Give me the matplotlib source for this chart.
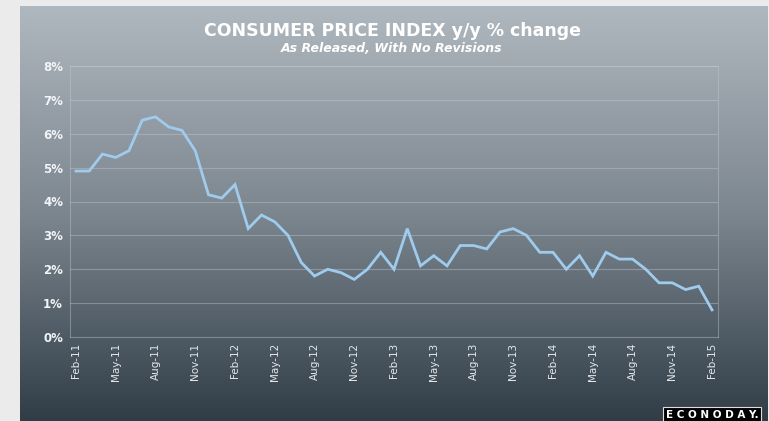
import matplotlib

matplotlib.use("Agg")
import matplotlib.pyplot as plt
import numpy as np
from matplotlib.colors import LinearSegmentedColormap
from matplotlib.ticker import FuncFormatter

# monthly y/y % change, as released
cpi_values = [
    4.9, 4.9, 5.4, 5.3, 5.5, 6.4, 6.5, 6.2, 6.1, 5.5, 4.2, 4.1,
    4.5, 3.2, 3.6, 3.4, 3.0, 2.2, 1.8, 2.0, 1.9, 1.7, 2.0, 2.5,
    2.0, 3.2, 2.1, 2.4, 2.1, 2.7, 2.7, 2.6, 3.1, 3.2, 3.0, 2.5,
    2.5, 2.0, 2.4, 1.8, 2.5, 2.3, 2.3, 2.0, 1.6, 1.6, 1.4, 1.5,
    0.8,
]
tick_labels = [
    "Feb-11", "May-11", "Aug-11", "Nov-11", "Feb-12", "May-12", "Aug-12",
    "Nov-12", "Feb-13", "May-13", "Aug-13", "Nov-13", "Feb-14", "May-14",
    "Aug-14", "Nov-14", "Feb-15",
]
y_ticks = [0, 1, 2, 3, 4, 5, 6, 7, 8]

W, H = 769, 421
fig = plt.figure(figsize=(W / 100, H / 100), dpi=100)
fig.patch.set_facecolor("#ebebeb")

# gradient panel
bg = fig.add_axes([20 / W, 0, 748 / W, 415 / H])
bg.set_axis_off()
cmap = LinearSegmentedColormap.from_list("panel", ["#b0b8bf", "#7c868f", "#303d47"])
bg.imshow(np.linspace(0, 1, 256).reshape(-1, 1), aspect="auto", cmap=cmap,
          extent=[0, 1, 0, 1])

ax = fig.add_axes([70 / W, (H - 337) / H, 648 / W, 271 / H])
ax.patch.set_alpha(0)
x = np.arange(len(cpi_values))
ax.plot(x, cpi_values, color="#9fcbec", linewidth=2, solid_joinstyle="miter")

ax.set_xlim(-0.45, len(cpi_values) - 1 + 0.45)
ax.set_ylim(0, 8)
ax.set_yticks(y_ticks)
ax.yaxis.set_major_formatter(FuncFormatter(lambda v, _: f"{v:.0f}%"))
ax.set_xticks(x[::3])
ax.set_xticklabels(tick_labels, rotation=90, fontsize=7.5, color="#e4e8ec")
for lab in ax.get_yticklabels():
    lab.set_fontsize(8.5)
    lab.set_fontweight("bold")
    lab.set_color("#f2f4f6")
ax.tick_params(length=0, pad=4)
ax.tick_params(axis="y", pad=5)
ax.grid(axis="y", color="#c4ccd3", alpha=0.4, linewidth=0.8)
for spine in ax.spines.values():
    spine.set_color("#c4ccd3")
    spine.set_alpha(0.4)
    spine.set_linewidth(0.8)

fig.text(392 / W, 1 - 31 / H, "CONSUMER PRICE INDEX y/y % change",
         ha="center", va="center", fontsize=12.5, fontweight="bold", color="white")
fig.text(392 / W, 1 - 48 / H, "As Released, With No Revisions",
         ha="center", va="center", fontsize=9, fontweight="bold",
         style="italic", color="white")

fig.text(712 / W, 1 - 415 / H, "E C O N O D A Y.", ha="center", va="center",
         fontsize=7.5, fontweight="bold", color="white",
         bbox=dict(boxstyle="square,pad=0.3", facecolor="black",
                   edgecolor="#dddddd", linewidth=0.8))

fig.savefig("out.png", dpi=100)
